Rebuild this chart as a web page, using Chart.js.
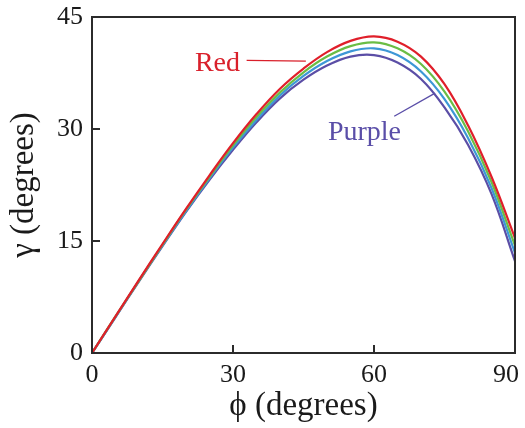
<!DOCTYPE html>
<html>
<head>
<meta charset="utf-8">
<script src="https://cdn.jsdelivr.net/npm/chart.js@4"></script>
<style>
html,body{margin:0;padding:0;background:#fff;}
#wrap{width:525px;height:428px;position:relative;}
</style>
</head>
<body>
<div id="wrap"><canvas id="c" width="525" height="428"></canvas></div>
<script>
// ---- data ----
const phi = [0,5,10,15,20,25,30,35,40,45,50,55,60,65,70,75,80,85,90];
const redGamma    = [0,4.9,9.8,14.6,19.3,23.8,28.1,32.0,35.4,38.1,40.3,41.8,42.4,41.7,39.7,36.0,30.5,23.6,15.4];
const greenGamma  = [0,4.9,9.7,14.5,19.2,23.6,27.8,31.6,34.9,37.6,39.7,41.1,41.6,40.8,38.7,35.0,29.7,22.9,14.4];
const blueGamma   = [0,4.8,9.7,14.4,19.0,23.4,27.5,31.2,34.5,37.1,39.1,40.4,40.8,39.9,37.7,34.0,28.8,22.1,13.4];
const purpleGamma = [0,4.8,9.6,14.3,18.9,23.2,27.2,30.9,34.1,36.6,38.5,39.7,39.9,38.9,36.7,32.9,27.9,21.3,12.3];
const xTicks = [0,30,60,90];
const yTicks = [0,15,30,45];
const xTitle = "\u03d5 (degrees)";
const yTitle = "\u03b3 (degrees)";
// annotation labels (anchored in data coordinates)
const labelRed = {text:"Red", x:21.9, y:37.8, lx1:32.9, ly1:39.2, lx2:45.5, ly2:39.1};
const labelPurple = {text:"Purple", x:50.2, y:28.5, lx1:64.3, ly1:31.7, lx2:73.0, ly2:34.8};

const SERIF = "'Liberation Serif','Times New Roman',serif";
const AXIS = '#2b2b2b';

function pts(ys){ return phi.map((x,i)=>({x:x,y:ys[i]})); }

const frame = {
  id:'frame',
  afterDraw(chart){
    const {ctx, chartArea:a, scales:{x,y}} = chart;
    ctx.save();
    ctx.strokeStyle = AXIS;
    ctx.lineWidth = 2;
    ctx.strokeRect(a.left, a.top, a.right-a.left, a.bottom-a.top);
    // inward ticks
    ctx.beginPath();
    xTicks.forEach(v=>{ if(v>0 && v<90){ const px=x.getPixelForValue(v); ctx.moveTo(px,a.bottom); ctx.lineTo(px,a.bottom-8);} });
    yTicks.forEach(v=>{ if(v>0 && v<45){ const py=y.getPixelForValue(v); ctx.moveTo(a.left,py); ctx.lineTo(a.left+8,py);} });
    ctx.stroke();
    // annotations
    const draw = (L,color,lineColor)=>{
      ctx.fillStyle=color;
      ctx.font = "28px " + SERIF;
      ctx.textBaseline='alphabetic';
      ctx.textAlign='left';
      ctx.fillText(L.text, x.getPixelForValue(L.x), y.getPixelForValue(L.y));
      ctx.strokeStyle=lineColor; ctx.lineWidth=1.3;
      ctx.beginPath();
      ctx.moveTo(x.getPixelForValue(L.lx1), y.getPixelForValue(L.ly1));
      ctx.lineTo(x.getPixelForValue(L.lx2), y.getPixelForValue(L.ly2));
      ctx.stroke();
    };
    draw(labelRed,'#d9202b','#d9202b');
    draw(labelPurple,'#5a4ea8','#5a4ea8');
    ctx.restore();
  }
};

new Chart(document.getElementById('c'), {
  type:'line',
  data:{
    datasets:[
      {label:'Red', data:pts(redGamma), borderColor:'#e01f2a'},
      {label:'Green', data:pts(greenGamma), borderColor:'#6abd45'},
      {label:'Blue', data:pts(blueGamma), borderColor:'#3d97d6'},
      {label:'Purple', data:pts(purpleGamma), borderColor:'#5b4ea6'}
    ]
  },
  options:{
    responsive:false,
    animation:false,
    devicePixelRatio:1,
    layout:{padding:{top:17,right:10,left:0,bottom:0}},
    elements:{
      point:{radius:0},
      line:{borderWidth:2.2, tension:0.4, fill:false}
    },
    plugins:{legend:{display:false}, tooltip:{enabled:false}},
    scales:{
      x:{
        type:'linear', min:0, max:90,
        afterBuildTicks(s){ s.ticks = xTicks.map(v=>({value:v})); },
        afterFit(s){ s.height = 75; s.paddingLeft = 0; s.paddingRight = 0; },
        grid:{display:false, drawTicks:false},
        border:{display:false},
        ticks:{color:'#1a1a1a', font:{family:SERIF, size:26}, padding:7, maxRotation:0, autoSkip:false,
               callback:(v)=> v===90 ? '90\u2002\u2009' : String(v)},
        title:{display:true, text:xTitle, color:'#1a1a1a', font:{family:SERIF, size:33}, padding:{top:0,bottom:2}}
      },
      y:{
        type:'linear', min:0, max:45,
        afterBuildTicks(s){ s.ticks = yTicks.map(v=>({value:v})); },
        afterFit(s){ s.width = 92; s.paddingTop = 0; s.paddingBottom = 0; },
        grid:{display:false, drawTicks:false},
        border:{display:false},
        ticks:{color:'#1a1a1a', font:{family:SERIF, size:26}, padding:9, autoSkip:false},
        title:{display:true, text:yTitle, color:'#1a1a1a', font:{family:SERIF, size:33}, padding:{top:5,bottom:0}}
      }
    }
  },
  plugins:[frame]
});
</script>
</body>
</html>
